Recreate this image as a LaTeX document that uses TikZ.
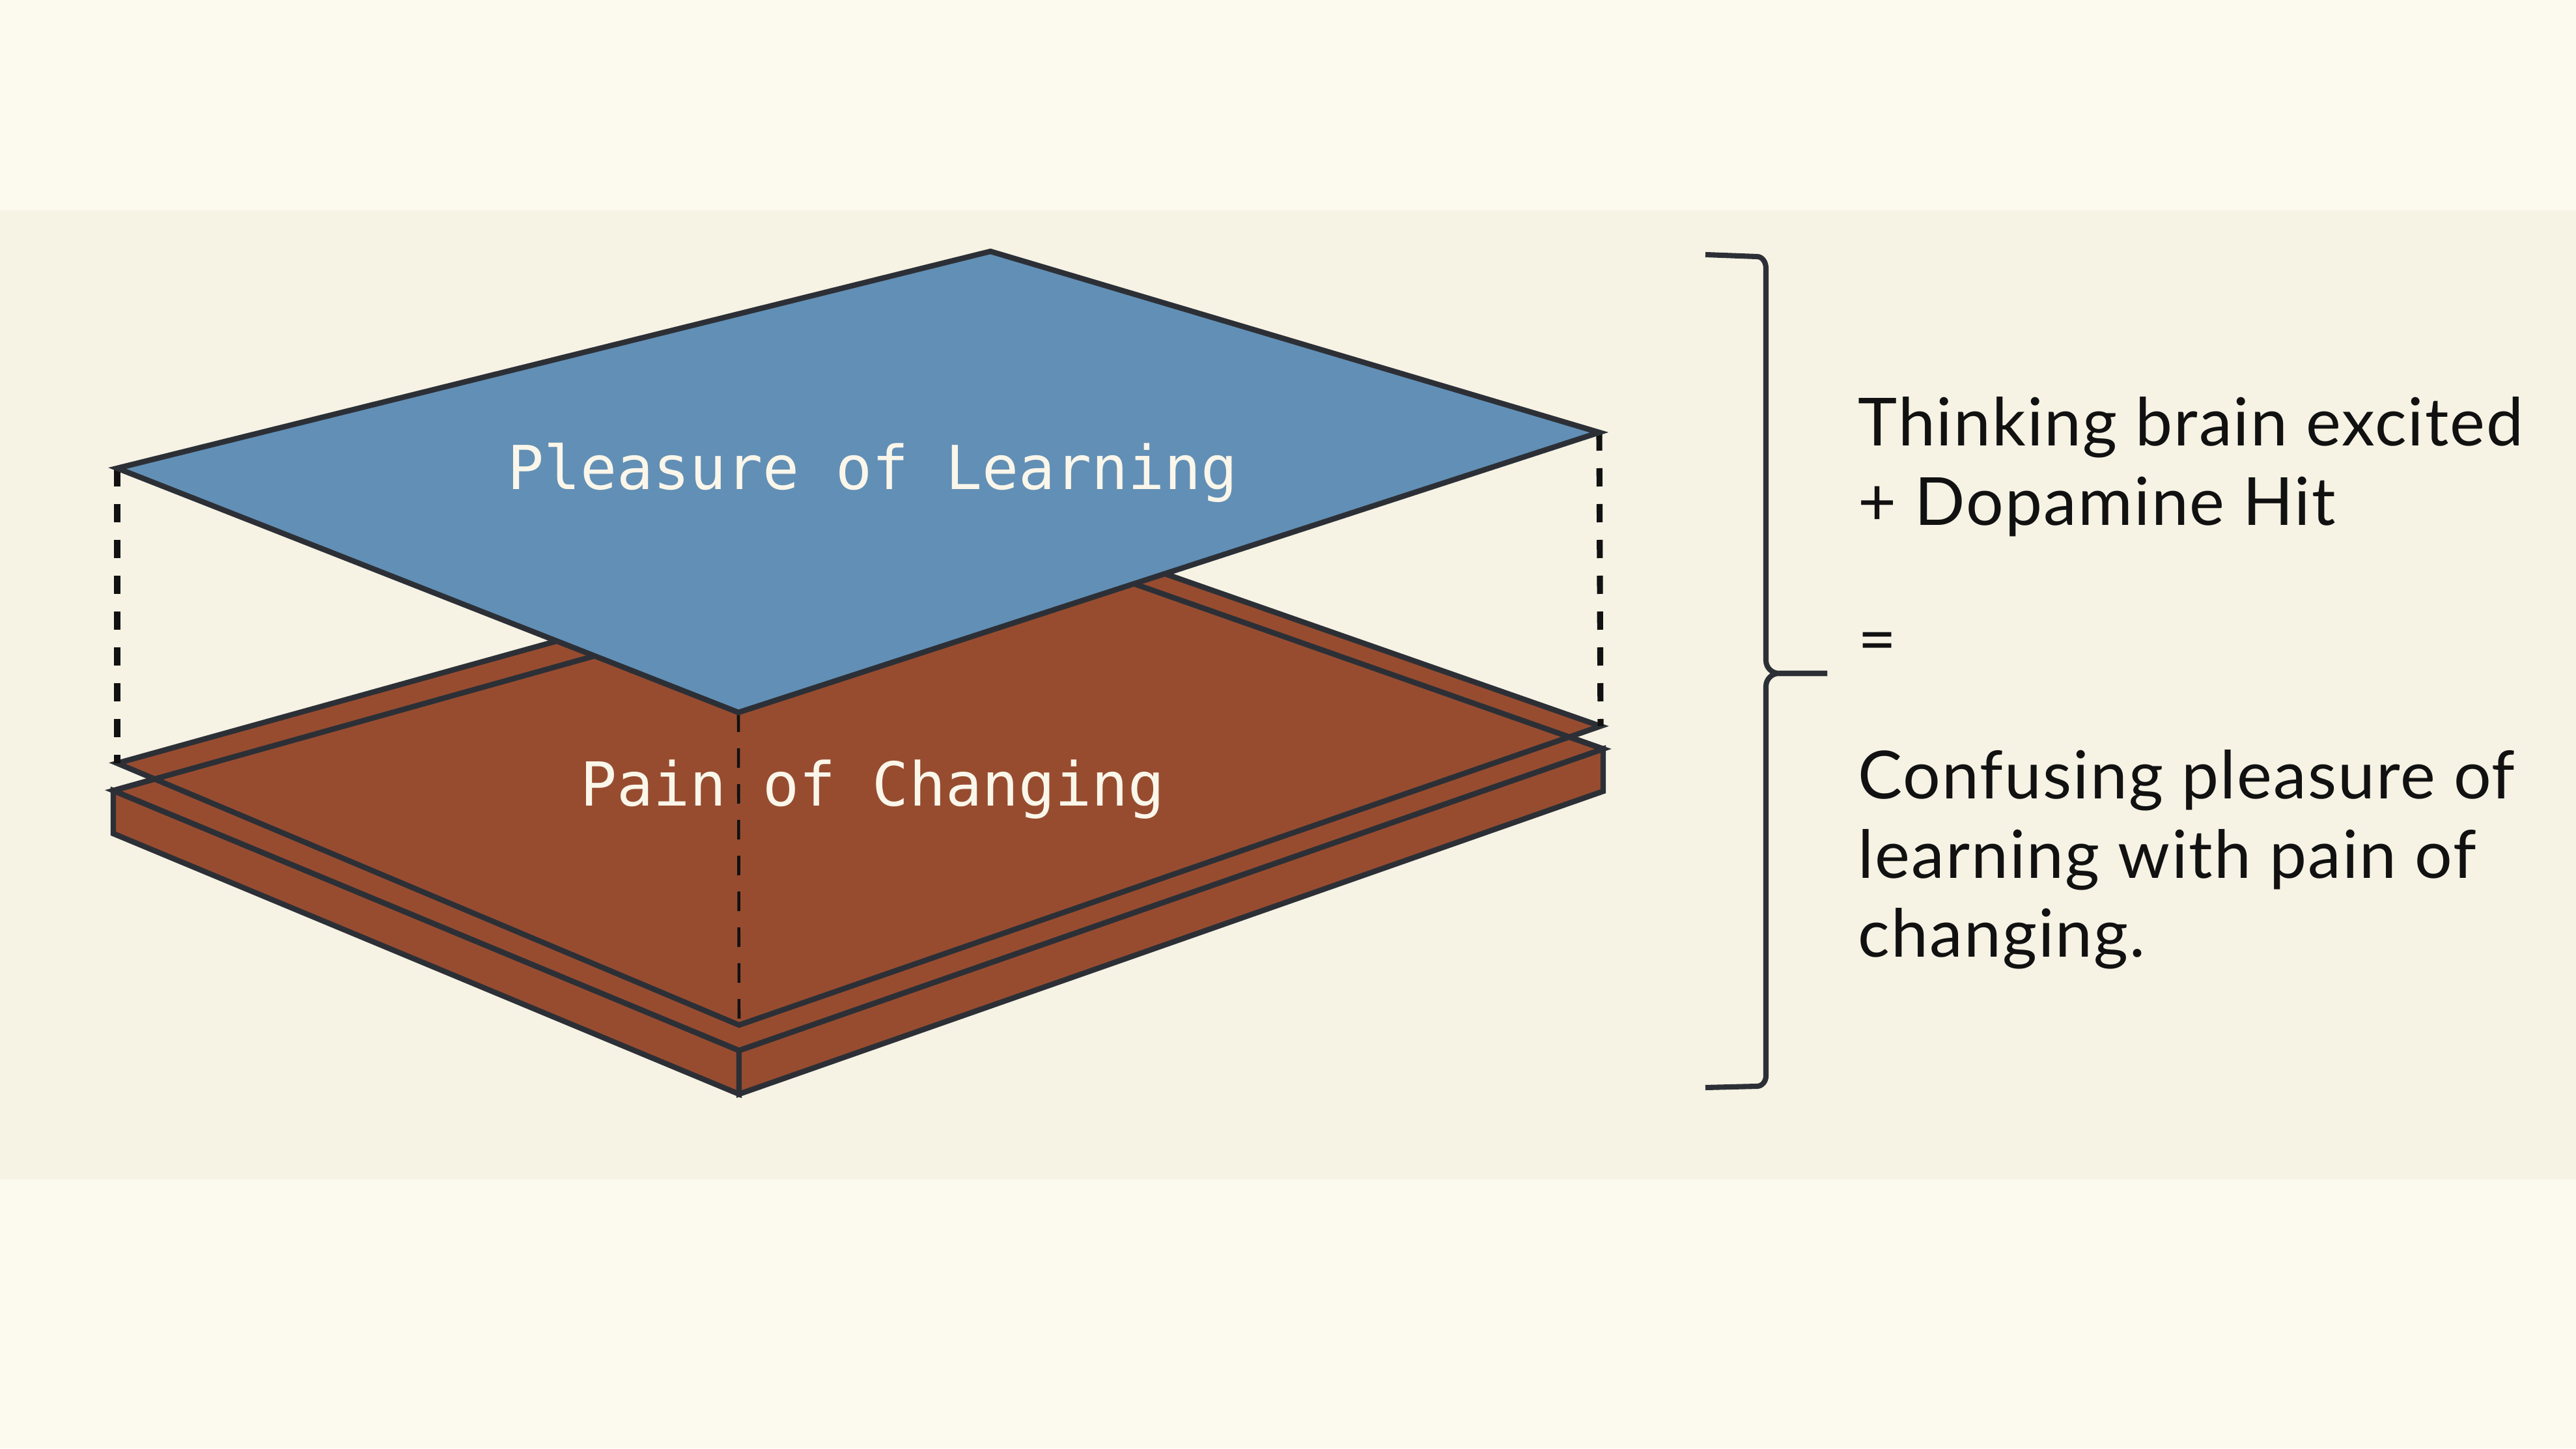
\documentclass[tikz,border=0pt]{standalone}
\usepackage{fontspec}
\setmainfont{Lato}
\setmonofont{DejaVu Sans Mono}
\newfontfamily\notefont[LetterSpace=2]{Lato}
\usetikzlibrary{positioning}
\definecolor{cpaper}{RGB}{252,250,238}
\definecolor{cband}{RGB}{246,242,228}
\definecolor{cblue}{RGB}{98,143,181}
\definecolor{cbrown}{RGB}{151,76,48}
\definecolor{cedge}{RGB}{44,48,54}
\definecolor{clabel}{RGB}{250,246,234}
\definecolor{cink}{RGB}{17,17,17}

\begin{document}
\begin{tikzpicture}[
    plane/.style={draw=cedge, line width=2.4pt},
    guide/.style={draw=cink, line width=2.6pt, dash pattern=on 0.28cm off 0.27cm},
    thinguide/.style={draw=cink, line width=1.3pt, dash pattern=on 0.30cm off 0.25cm},
    brace/.style={draw=cedge, line width=2.3pt},
    label/.style={font=\ttfamily\fontsize{26.5}{30}\selectfont, text=clabel, inner sep=0pt},
    note/.style={font=\notefont\fontsize{29}{34.6}\selectfont, text=cink, align=left, anchor=north west, inner sep=0pt}
  ]
  % paper and the darker middle band
  \fill[cpaper] (0,0) rectangle (39.56,22.24);
  \fill[cband] (0,4.13) rectangle (39.56,19.01);
  \useasboundingbox (0,0) rectangle (39.56,22.24);

  % corners of the blue sheet
  \coordinate (bt) at (15.21,18.38);
  \coordinate (br) at (24.56,15.60);
  \coordinate (bb) at (11.34,11.30);
  \coordinate (bl) at (1.80,15.05);
  % thin brown sheet
  \coordinate (pt) at (15.40,14.30);
  \coordinate (pr) at (24.58,11.09);
  \coordinate (pb) at (11.35,6.50);
  \coordinate (pl) at (1.80,10.52);
  % brown slab, top and bottom
  \coordinate (st) at (15.50,13.95);
  \coordinate (sr) at (24.62,10.74);
  \coordinate (sb) at (11.35,6.11);
  \coordinate (sl) at (1.74,10.10);
  \coordinate (srd) at (24.62,10.09);
  \coordinate (sbd) at (11.35,5.44);
  \coordinate (sld) at (1.74,9.44);

  % slab
  \filldraw[plane, fill=cbrown] (sl) -- (sb) -- (sbd) -- (sld) -- cycle;
  \filldraw[plane, fill=cbrown] (sb) -- (sr) -- (srd) -- (sbd) -- cycle;
  \filldraw[plane, fill=cbrown] (sl) -- (sb) -- (sr) -- (st) -- cycle;
  % sheet on the slab
  \filldraw[plane, fill=cbrown] (pl) -- (pb) -- (pr) -- (pt) -- cycle;
  \draw[plane] (sl) -- (st) -- (sr);

  % drop lines
  \draw[guide] (bl) -- (pl);
  \draw[guide] (br) -- (pr);
  \draw[thinguide] (bb) -- (pb);

  % blue sheet
  \filldraw[plane, fill=cblue] (bl) -- (bt) -- (br) -- (bb) -- cycle;

  \node[label, anchor=base] (learn) at (13.40,14.72) {Pleasure of Learning};
  \node[label, anchor=base] (pain) at (13.40,9.87) {Pain of Changing};

  % brace
  \coordinate (kt) at (26.19,18.33);
  \coordinate (kb) at (26.19,5.54);
  \coordinate (kp) at (28.06,11.90);
  \draw[brace] (kt) -- (26.98,18.30) to[out=0,in=90] (27.12,18.12) -- (27.12,12.10)
    to[out=-90,in=180] (27.32,11.90) -- (kp);
  \draw[brace] (kp) -- (27.32,11.90) to[out=180,in=90] (27.12,11.70) -- (27.12,5.72)
    to[out=-90,in=0] (26.98,5.56) -- (kb);

  \node[note] (gain) at (28.53,16.15) {Thinking brain excited\\+ Dopamine Hit};
  \node[note, anchor=west] (eq) at (28.53,12.30) {=};
  \node[note] (confuse) at (28.53,10.73) {Confusing pleasure of\\learning with pain of\\changing.};
\end{tikzpicture}
\end{document}
